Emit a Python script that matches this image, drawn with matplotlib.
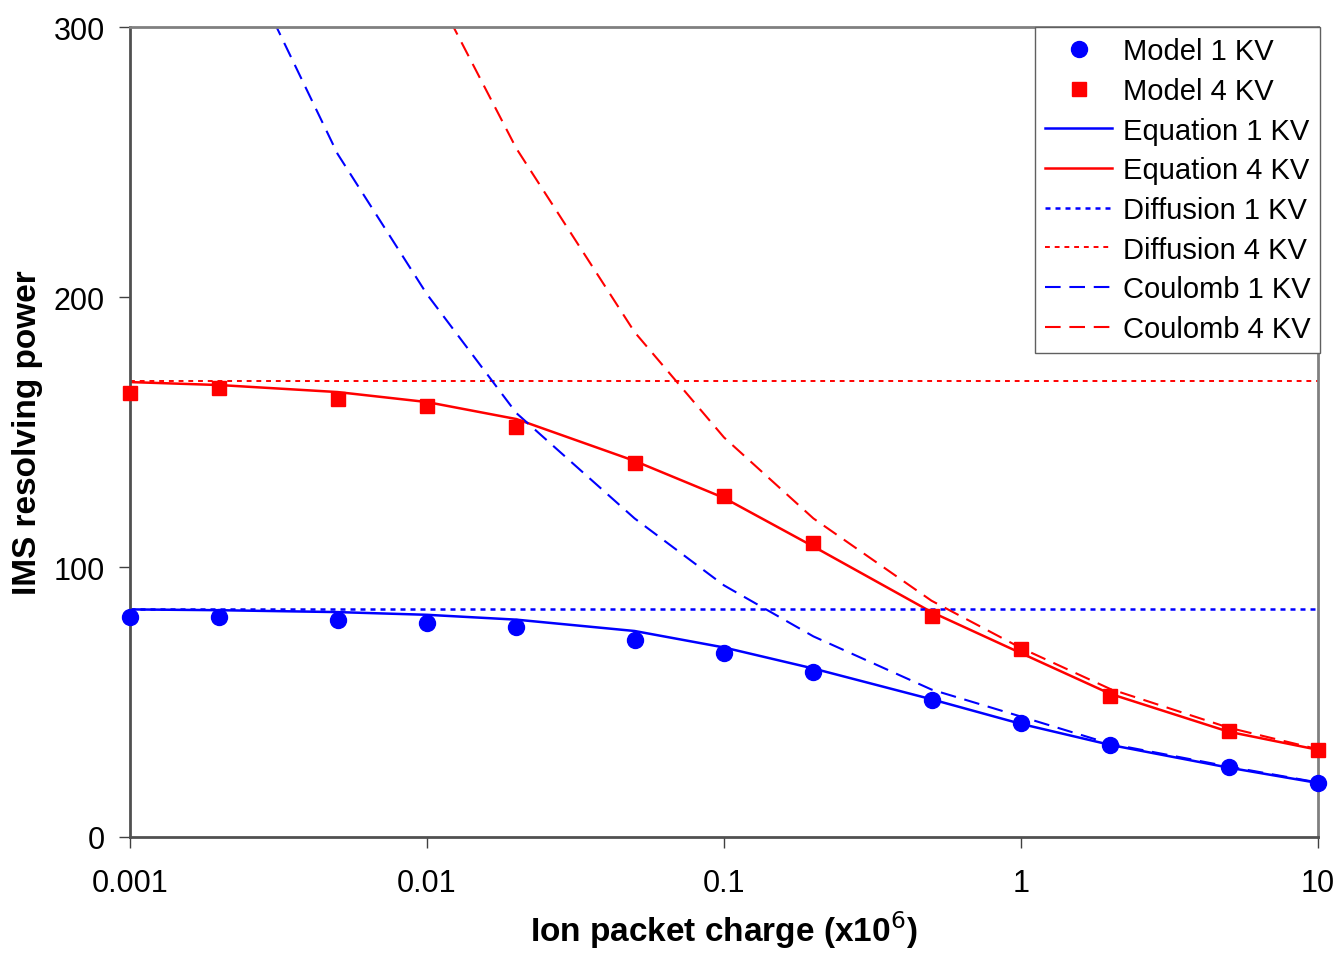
import matplotlib
matplotlib.use("Agg")
import matplotlib.pyplot as plt

plt.rcParams['font.family'] = ['Liberation Sans', 'DejaVu Sans']

# ion packet charge (x10^6)
charge = [0.001, 0.002, 0.005, 0.01, 0.02, 0.05, 0.1, 0.2, 0.5, 1, 2, 5, 10]

model_1kv = [81.5, 81.5, 80.4, 79.3, 77.6, 73.0, 68.1, 61.1, 50.6, 42.2, 34.1, 25.9, 20.0]
model_4kv = [164.4, 166.3, 162.2, 159.6, 151.9, 138.5, 126.4, 108.9, 81.9, 69.8, 52.2, 39.3, 32.4]

equation_1kv = [84.3, 84.0, 83.3, 82.3, 80.5, 76.3, 70.2, 62.4, 51.0, 41.9, 34.1, 25.7, 20.0]
equation_4kv = [168.5, 167.4, 164.8, 161.1, 154.8, 139.3, 125.6, 107.6, 83.3, 68.1, 53.0, 39.0, 32.3]

diffusion_1kv = [84.4] * len(charge)
diffusion_4kv = [168.9] * len(charge)

coulomb_1kv = [433, 344, 253, 201, 157, 118, 93.2, 74.3, 54.6, 44.6, 34.5, 26.1, 20.2]
coulomb_4kv = [687, 545, 402, 319, 255, 187, 148, 118, 87.5, 70.0, 54.8, 40.5, 32.5]

fig = plt.figure(figsize=(13.39, 9.54), dpi=100)
ax = fig.add_axes([0.0971, 0.1216, 0.8872, 0.849])

blue = '#0000ff'
red = '#ff0000'

ax.plot(charge, model_1kv, 'o', color=blue, ms=11.5, label='Model 1 KV', zorder=5, clip_on=False)
ax.plot(charge, model_4kv, 's', color=red, ms=10, label='Model 4 KV', zorder=5, clip_on=False)
ax.plot(charge, equation_1kv, '-', color=blue, lw=1.8, label='Equation 1 KV')
ax.plot(charge, equation_4kv, '-', color=red, lw=1.8, label='Equation 4 KV')
ax.plot(charge, diffusion_1kv, color=blue, lw=1.8, dashes=(2, 2), label='Diffusion 1 KV')
ax.plot(charge, diffusion_4kv, color=red, lw=1.4, dashes=(2.5, 2.5), label='Diffusion 4 KV')
ax.plot(charge, coulomb_1kv, color=blue, lw=1.5, dashes=(7.5, 4.2), label='Coulomb 1 KV')
ax.plot(charge, coulomb_4kv, color=red, lw=1.5, dashes=(7.5, 4.2), label='Coulomb 4 KV')

ax.set_xscale('log')
ax.set_xlim(0.001, 10)
ax.set_ylim(0, 300)
ax.set_xticks([0.001, 0.01, 0.1, 1, 10])
ax.set_xticklabels(['0.001', '0.01', '0.1', '1', '10'])
ax.set_yticks([0, 100, 200, 300])
ax.minorticks_off()

ax.tick_params(axis='x', direction='out', length=8, width=1, pad=14, labelsize=22, colors='#404040', labelcolor='black')
ax.tick_params(axis='y', direction='out', length=8, width=1, pad=10, labelsize=22, colors='#404040', labelcolor='black')

for side in ['top', 'right']:
    ax.spines[side].set_color('#808080')
    ax.spines[side].set_linewidth(2)
for side in ['left', 'bottom']:
    ax.spines[side].set_color('#505050')
    ax.spines[side].set_linewidth(2)

ax.set_xlabel('Ion packet charge (x10$^{6}$)', fontsize=24, fontweight='bold', labelpad=8)
ax.set_ylabel('IMS resolving power', fontsize=24, fontweight='bold', labelpad=8)

leg = ax.legend(loc='upper right', bbox_to_anchor=(1.002, 1.0), borderaxespad=0,
                fontsize=21, frameon=True, fancybox=False, framealpha=1,
                handlelength=2.3, handletextpad=0.35, labelspacing=0.4,
                borderpad=0.35)
leg.get_frame().set_edgecolor('#606060')
leg.get_frame().set_linewidth(1)

fig.savefig('out.png', dpi=100)
